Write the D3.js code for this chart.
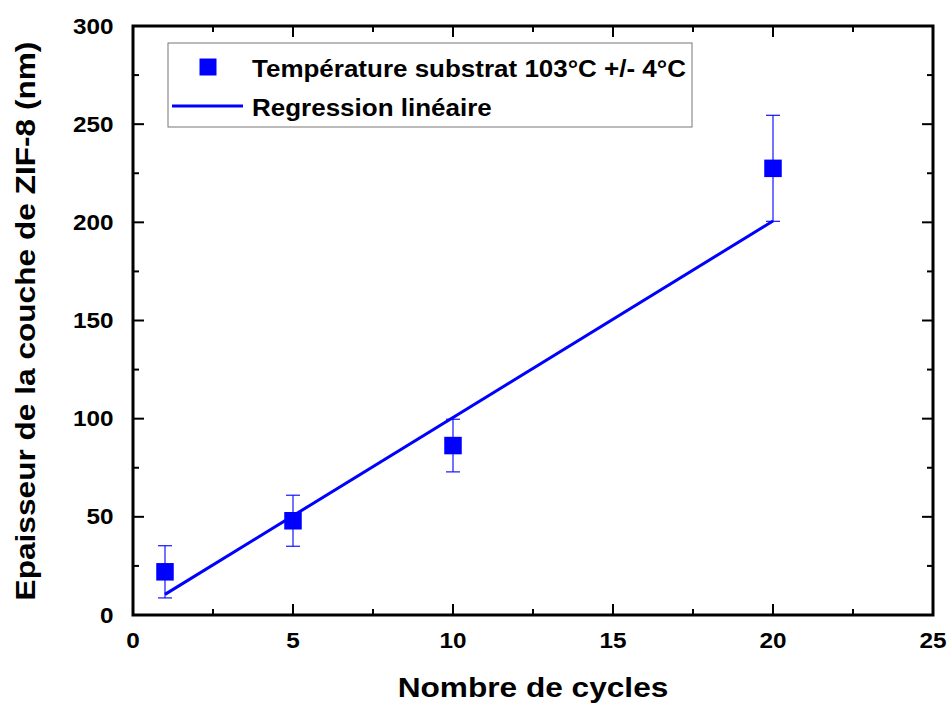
<!DOCTYPE html>
<html><head><meta charset="utf-8">
<script src="https://cdn.jsdelivr.net/npm/d3@7"></script>
<style>body{margin:0;background:#fff}svg{display:block}text{font-family:"Liberation Sans",Arial,sans-serif;font-weight:bold}</style>
</head><body>
<svg id="c" width="950" height="704"></svg>
<script>
const cycles = [1, 5, 10, 20];
const thickness = [22, 48, 86.3, 227.5];
const errors = [13.3, 13, 13.4, 27];
const regX = [1, 20];
const regY = [10.5, 200.7];
const xTicks = [0, 5, 10, 15, 20, 25];
const yTicks = [0, 50, 100, 150, 200, 250, 300];
const legendLabels = ["Température substrat 103°C +/- 4°C", "Regression linéaire"];

const svg = d3.select("#c");
const L = 133, R = 933, T = 26, B = 615;
const x = d3.scaleLinear().domain([0, 25]).range([L, R]);
const y = d3.scaleLinear().domain([0, 300]).range([B, T]);
const blue = "#0000ff";
const SX = 1.13;

function txt(parent, tx, ty, str, size, anchor, rot) {
  return parent.append("text")
    .attr("transform", `translate(${tx},${ty})` + (rot ? ` rotate(${rot})` : "") + ` scale(${SX},1)`)
    .attr("text-anchor", anchor || "start").attr("font-size", size).text(str);
}

// ticks (inward) on all four sides
const g = svg.append("g");
const xMinor = d3.range(2.5, 25, 5);
const yMinor = d3.range(25, 300, 50);
function tick(x1,y1,x2,y2){ g.append("line").attr("x1",x1).attr("y1",y1).attr("x2",x2).attr("y2",y2).attr("stroke","#000").attr("stroke-width",2); }
xTicks.forEach(v=>{ tick(x(v),B,x(v),B-11); tick(x(v),T,x(v),T+11); });
xMinor.forEach(v=>{ tick(x(v),B,x(v),B-6); tick(x(v),T,x(v),T+6); });
yTicks.forEach(v=>{ tick(L,y(v),L+11,y(v)); tick(R,y(v),R-11,y(v)); });
yMinor.forEach(v=>{ tick(L,y(v),L+6,y(v)); tick(R,y(v),R-6,y(v)); });
svg.append("rect").attr("x",L).attr("y",T).attr("width",R-L).attr("height",B-T)
  .attr("fill","none").attr("stroke","#000").attr("stroke-width",3);

// tick labels
xTicks.forEach(v => txt(svg, x(v), 648, v, 21.5, "middle"));
yTicks.forEach(v => txt(svg, 113.5, y(v) + 7.5, v, 21.5, "end"));

// titles
txt(svg, 533, 697, "Nombre de cycles", 28, "middle");
txt(svg, 35, 321, "Epaisseur de la couche de ZIF-8 (nm)", 28, "middle", -90);

// regression
svg.append("path").datum(d3.zip(regX, regY))
  .attr("d", d3.line().x(d=>x(d[0])).y(d=>y(d[1])))
  .attr("stroke",blue).attr("stroke-width",3).attr("fill","none");

// error bars
const eb = svg.append("g").attr("stroke",blue).attr("stroke-width",1.3).attr("stroke-opacity",0.85);
cycles.forEach((c,i)=>{
  const hi = y(thickness[i]+errors[i]), lo = y(thickness[i]-errors[i]);
  eb.append("line").attr("x1",x(c)).attr("x2",x(c)).attr("y1",hi).attr("y2",lo);
  eb.append("line").attr("x1",x(c)-7).attr("x2",x(c)+7).attr("y1",hi).attr("y2",hi);
  eb.append("line").attr("x1",x(c)-7).attr("x2",x(c)+7).attr("y1",lo).attr("y2",lo);
});

// markers
const ms = 17.5;
svg.selectAll(".pt").data(cycles).join("rect")
  .attr("x",(d)=>x(d)-ms/2).attr("y",(d,i)=>y(thickness[i])-ms/2)
  .attr("width",ms).attr("height",ms).attr("fill",blue);

// legend
const lg = svg.append("g");
lg.append("rect").attr("x",168).attr("y",43).attr("width",524).attr("height",84)
  .attr("fill","#fff").attr("stroke","#777").attr("stroke-width",1);
lg.append("rect").attr("x",199.5).attr("y",58.5).attr("width",17).attr("height",17).attr("fill",blue);
lg.append("line").attr("x1",172).attr("x2",243).attr("y1",106).attr("y2",106).attr("stroke",blue).attr("stroke-width",3);
txt(lg, 252, 77, legendLabels[0], 23);
txt(lg, 252, 116, legendLabels[1], 23);
</script>
</body></html>
